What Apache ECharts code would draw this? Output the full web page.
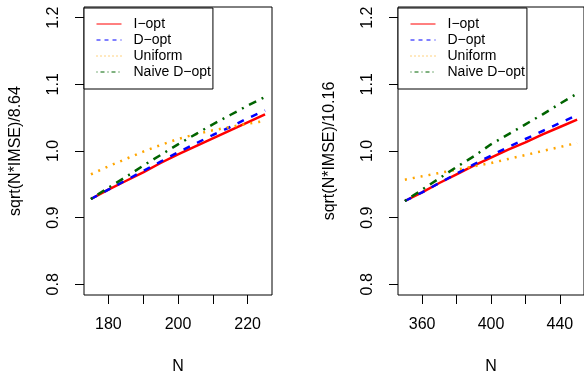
<!DOCTYPE html>
<html>
<head>
<meta charset="utf-8">
<script src="https://cdn.jsdelivr.net/npm/echarts@6/dist/echarts.min.js"></script>
<style>
html,body{margin:0;padding:0;background:#fff;}
#chart{width:584px;height:380px;}
</style>
</head>
<body>
<div id="chart"></div>
<script>
// ---- data ----
const seriesNames = ['I\u2212opt', 'D\u2212opt', 'Uniform', 'Naive D\u2212opt'];

const nLeft = [175, 180, 185, 190, 195, 200, 205, 210, 215, 220, 225];
const iOptLeft    = [0.928, 0.942, 0.955, 0.968, 0.982, 0.995, 1.007, 1.019, 1.031, 1.043, 1.055];
const dOptLeft    = [0.928, 0.942, 0.956, 0.970, 0.984, 0.998, 1.011, 1.024, 1.036, 1.049, 1.061];
const uniformLeft = [0.965, 0.977, 0.988, 0.999, 1.009, 1.018, 1.025, 1.031, 1.036, 1.041, 1.045];
const naiveLeft   = [0.928, 0.945, 0.961, 0.978, 0.994, 1.010, 1.025, 1.040, 1.054, 1.068, 1.081];

const nRight = [350, 360, 370, 380, 390, 400, 410, 420, 430, 440, 450];
const iOptRight    = [0.925, 0.938, 0.952, 0.965, 0.978, 0.990, 1.002, 1.013, 1.025, 1.036, 1.047];
const dOptRight    = [0.925, 0.938, 0.952, 0.966, 0.980, 0.993, 1.006, 1.018, 1.030, 1.042, 1.054];
const uniformRight = [0.957, 0.962, 0.967, 0.972, 0.977, 0.982, 0.988, 0.994, 1.000, 1.006, 1.012];
const naiveRight   = [0.925, 0.942, 0.959, 0.976, 0.992, 1.010, 1.025, 1.040, 1.055, 1.071, 1.086];

const yTicks = [0.8, 0.9, 1.0, 1.1, 1.2];
const xTicksLeft = [180, 190, 200, 210, 220];
const xLabelsLeft = [180, 200, 220];
const xTicksRight = [360, 380, 400, 420, 440];
const xLabelsRight = [360, 400, 440];
const yTitleLeft = 'sqrt(N*IMSE)/8.64';
const yTitleRight = 'sqrt(N*IMSE)/10.16';
const xTitle = 'N';

// ---- styles ----
const FONT = 'Liberation Sans, Arial, Helvetica, sans-serif';
const colors = ['#FF0000', '#0000FF', '#FFA500', '#006400'];
const dashes = ['solid', [7, 8], [2, 6], [2, 6, 8, 6]];
const legendDashes = ['solid', [4, 4], [1, 3], [1, 3, 4, 3]];

function pairs(xs, ys) { return xs.map((x, i) => [x, ys[i]]); }

function mkSeries(idx, xs, ys, g) {
  return {
    type: 'line', name: seriesNames[idx], xAxisIndex: g, yAxisIndex: g,
    data: pairs(xs, ys), symbol: 'none', showSymbol: false, smooth: false,
    animation: false, silent: true,
    lineStyle: { color: colors[idx], width: 2.5, type: dashes[idx], cap: 'butt' },
    itemStyle: { color: colors[idx] }
  };
}

function mkX(g, min, max, ticks, labels, name) {
  return {
    type: 'value', gridIndex: g, min: min, max: max,
    name: name, nameLocation: 'middle', nameGap: 64,
    nameTextStyle: { fontSize: 16, color: '#000', fontFamily: FONT },
    axisLine: { show: false },
    axisTick: { show: true, inside: false, length: 9, customValues: ticks, lineStyle: { color: '#000', width: 1 } },
    axisLabel: { show: true, customValues: labels, margin: 22, fontSize: 16, color: '#000', fontFamily: FONT },
    splitLine: { show: false }
  };
}

function mkY(g, name) {
  return {
    type: 'value', gridIndex: g, min: 0.784, max: 1.216,
    name: name, nameLocation: 'middle', nameGap: 60,
    nameTextStyle: { fontSize: 16, color: '#000', fontFamily: FONT },
    axisLine: { show: false },
    axisTick: { show: true, inside: false, length: 9, customValues: yTicks, lineStyle: { color: '#000', width: 1 } },
    axisLabel: { show: true, customValues: yTicks, rotate: 90, margin: 22, fontSize: 16, color: '#000', fontFamily: FONT,
      formatter: v => Number(v).toFixed(1) },
    splitLine: { show: false }
  };
}

function mkLegend(left) {
  return {
    left: left, top: 8, orient: 'vertical',
    itemWidth: 25, itemHeight: 14, itemGap: 2,
    padding: [9, 2, 10, 12],
    borderColor: '#000', borderWidth: 1, borderRadius: 0, backgroundColor: '#fff',
    selectedMode: false,
    itemStyle: { opacity: 0 },
    textStyle: { fontSize: 14, color: '#000', fontFamily: FONT, padding: [0, 0, 0, 7] },
    data: seriesNames.map((n, i) => ({
      name: n,
      itemStyle: { opacity: 0 },
      lineStyle: { width: 1, type: legendDashes[i], color: colors[i], opacity: 1 }
    }))
  };
}

const chart = echarts.init(document.getElementById('chart'), null, { renderer: 'canvas' });
chart.setOption({
  animation: false,
  backgroundColor: '#fff',
  grid: [
    { left: 84, top: 7, width: 188, height: 295, show: true, borderColor: '#000', borderWidth: 1, backgroundColor: 'transparent' },
    { left: 398, top: 7, width: 188, height: 295, show: true, borderColor: '#000', borderWidth: 1, backgroundColor: 'transparent' }
  ],
  xAxis: [
    mkX(0, 173, 227, xTicksLeft, xLabelsLeft, xTitle),
    mkX(1, 346, 454, xTicksRight, xLabelsRight, xTitle)
  ],
  yAxis: [mkY(0, yTitleLeft), mkY(1, yTitleRight)],
  legend: [mkLegend(84), mkLegend(398)],
  series: [
    mkSeries(0, nLeft, iOptLeft, 0),
    mkSeries(1, nLeft, dOptLeft, 0),
    mkSeries(2, nLeft, uniformLeft, 0),
    mkSeries(3, nLeft, naiveLeft, 0),
    mkSeries(0, nRight, iOptRight, 1),
    mkSeries(1, nRight, dOptRight, 1),
    mkSeries(2, nRight, uniformRight, 1),
    mkSeries(3, nRight, naiveRight, 1)
  ]
});
</script>
</body>
</html>
